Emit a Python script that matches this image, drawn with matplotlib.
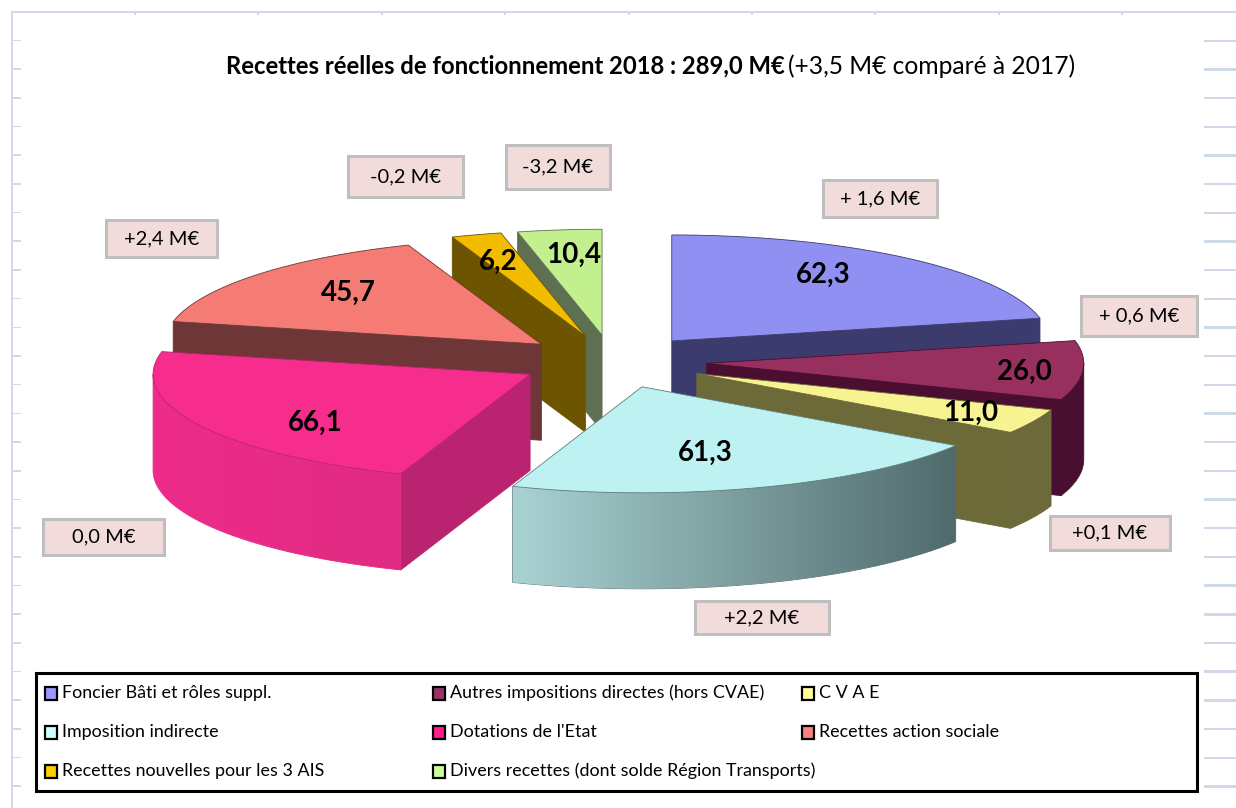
import matplotlib
matplotlib.use("Agg")
import matplotlib.pyplot as plt
import numpy as np
from matplotlib.colors import LinearSegmentedColormap
from matplotlib.patches import Polygon, Rectangle

plt.rcParams["font.family"] = ["Lato", "DejaVu Sans"]

# chart data
categories = [
    "Foncier Bâti et rôles suppl.",
    "Autres impositions directes (hors CVAE)",
    "C V A E",
    "Imposition indirecte",
    "Dotations de l'Etat",
    "Recettes action sociale",
    "Recettes nouvelles pour les 3 AIS",
    "Divers recettes (dont solde Région Transports)",
]
values = [62.3, 26.0, 11.0, 61.3, 66.1, 45.7, 6.2, 10.4]
deltas = ["+ 1,6 M€", "+ 0,6 M€", "+0,1 M€", "+2,2 M€", "0,0 M€", "+2,4 M€", "-0,2 M€", "-3,2 M€"]

# colours
top_colors = ["#9090F2", "#98305F", "#F6F390", "#BEF2F2", "#F62D8D", "#F47C74", "#F2BC00", "#C3F08E"]
legend_colors = ["#9999FF", "#993366", "#FFFF99", "#CCFFFF", "#FF1E8C", "#FF8080", "#FFCC00", "#CCFF99"]
wall_colors = ["#3B3B6D", "#4A0F30", "#6D6A3A", "#5F7F80", "#B9236F", "#6E3636", "#6C5400", "#5F7052"]
arc_gradients = {
    1: ("#4A0F30", "#4A0F30"),
    2: ("#6D6A3A", "#6D6A3A"),
    3: ("#A9D2D2", "#506A6C"),
    4: ("#EE2B8A", "#E02C82"),
}

# layout, in pixels of the 1236x808 picture
CX, CY = 612.7, 361.6
RX, RY = 377.0, 106.0
DEPTH = 96.0
EXPLODE = 0.25
draw_order = [7, 6, 5, 4, 0, 1, 2, 3]
value_pos = [(823, 275), (1024, 372), (971, 413), (705, 453), (315, 423), (348, 293), (498, 262), (574, 255)]
delta_boxes = [
    (823, 180, 114, 37), (1081, 296, 116, 40), (1050, 516, 120, 34), (695, 601, 134, 33),
    (43, 519, 121, 36), (106, 220, 111, 37), (348, 156, 115, 41), (506, 145, 104, 44),
]
legend_x = [45, 433, 802]
legend_y = [693, 732, 771]


def ellipse(theta, apex):
    return apex[0] + RX * np.sin(theta), apex[1] - RY * np.cos(theta)


def side_wall(xs, ys):
    return np.column_stack([np.r_[xs, xs[::-1]], np.r_[ys, ys[::-1] + DEPTH]])


def draw_wedge(ax, i, start, end, z):
    mid = (start + end) / 2
    apex = (CX + EXPLODE * RX * np.sin(mid), CY - EXPLODE * RY * np.cos(mid))
    edge = {"edgecolor": wall_colors[i], "linewidth": 0.6}

    # radial walls, only the ones turned towards the viewer
    for angle, visible in ((start, np.sin(start) < 0), (end, np.sin(end) > 0)):
        if visible:
            ex, ey = ellipse(angle, apex)
            quad = side_wall(np.array([apex[0], ex]), np.array([apex[1], ey]))
            ax.add_patch(Polygon(quad, facecolor=wall_colors[i], zorder=z, **edge))

    # outer wall, front half of the ellipse
    lo, hi = max(start, np.pi / 2), min(end, 3 * np.pi / 2)
    if lo < hi:
        xs, ys = ellipse(np.linspace(lo, hi, 80), apex)
        left, right = arc_gradients[i]
        patch = Polygon(side_wall(xs, ys), facecolor="none", edgecolor=right, linewidth=0.6, zorder=z)
        ax.add_patch(patch)
        cmap = LinearSegmentedColormap.from_list("wall", [left, right])
        im = ax.imshow(
            np.linspace(0, 1, 256)[None, :], cmap=cmap, aspect="auto", zorder=z,
            extent=(xs.min(), xs.max(), ys.max() + DEPTH, ys.min()),
        )
        im.set_clip_path(patch)

    # top face
    xs, ys = ellipse(np.linspace(start, end, 120), apex)
    top = np.column_stack([np.r_[apex[0], xs], np.r_[apex[1], ys]])
    ax.add_patch(Polygon(top, facecolor=top_colors[i], zorder=z + 0.05, **edge))


def draw_background(ax):
    line = "#D0D9E8"
    ax.add_patch(Rectangle((10.5, 11), 2.5, 797, color=line, lw=0))
    ax.add_patch(Rectangle((10.5, 11), 1225.5, 2, color=line, lw=0))
    for k in range(27):
        y = 40.7 + k * 28.68
        ax.add_patch(Rectangle((10.5, y - 1), 10.5, 1.6, color=line, lw=0))
        ax.add_patch(Rectangle((1204, y - 1.2), 32, 2.4, color=line, lw=0))
    for x in np.arange(135, 1236, 123.4):
        ax.add_patch(Rectangle((x - 1, 13), 2, 2, color=line, lw=0))


def main():
    fig = plt.figure(figsize=(12.36, 8.08), dpi=100)
    ax = fig.add_axes([0, 0, 1, 1])
    draw_background(ax)

    # slices, back to front
    bounds = np.r_[0, np.cumsum(values)] / sum(values) * 2 * np.pi
    for layer, i in enumerate(draw_order):
        draw_wedge(ax, i, bounds[i], bounds[i + 1], 2 + layer * 0.1)
    ax.set_xlim(0, 1236)
    ax.set_ylim(808, 0)
    ax.axis("off")

    for (x, y), v in zip(value_pos, values):
        ax.text(x, y, f"{v:.1f}".replace(".", ","), fontsize=20, fontweight="bold",
                ha="center", va="center", color="black", zorder=10)

    for (x, y, w, h), d in zip(delta_boxes, deltas):
        ax.add_patch(Rectangle((x, y), w, h, facecolor="#F2DCDB", edgecolor="#BFBFBF", linewidth=2.2, zorder=10))
        ax.text(x + w / 2, y + h / 2, d, fontsize=14.5, ha="center", va="center", color="black", zorder=11)

    # title in two weights
    ax.text(226, 66, "Recettes réelles de fonctionnement 2018 : 289,0 M€", fontsize=17.2,
            fontweight="bold", ha="left", va="center", zorder=10)
    ax.text(788, 66, "(+3,5 M€ comparé à 2017)", fontsize=17.7, ha="left", va="center", zorder=10)

    # legend frame and entries
    ax.add_patch(Rectangle((36, 673), 1160.5, 118, facecolor="white", edgecolor="black", linewidth=2.2, zorder=10))
    for n, (name, color) in enumerate(zip(categories, legend_colors)):
        x, y = legend_x[n % 3], legend_y[n // 3]
        ax.add_patch(Rectangle((x, y - 6.5), 12, 13, facecolor=color, edgecolor="black", linewidth=1.6, zorder=11))
        ax.text(x + 17, y, name, fontsize=12.9, ha="left", va="center", zorder=11)

    fig.savefig("out.png", dpi=100)


if __name__ == "__main__":
    main()
